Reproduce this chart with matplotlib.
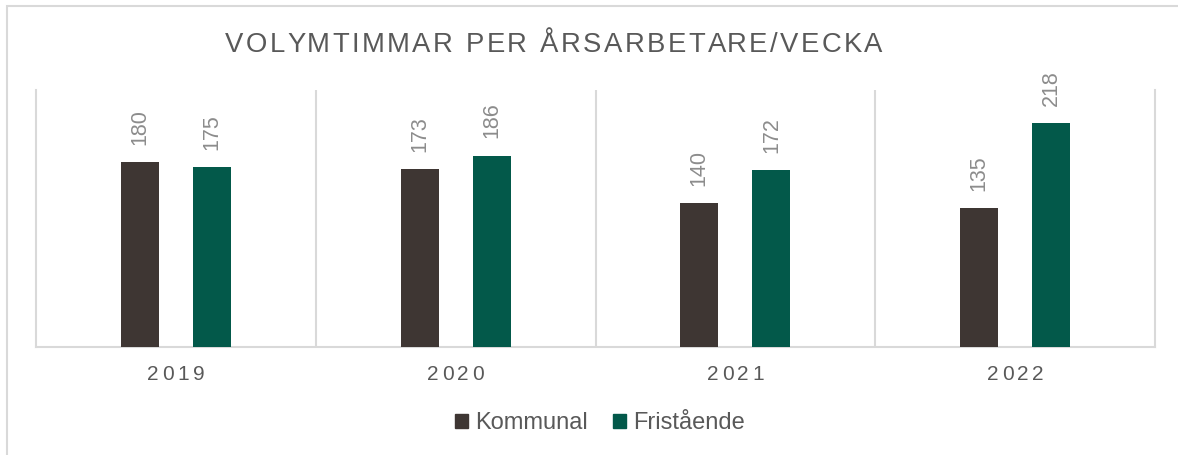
import matplotlib
matplotlib.use("Agg")
import matplotlib.pyplot as plt
import numpy as np
from matplotlib.patches import Patch, Rectangle
from matplotlib.font_manager import FontProperties

years = ["2019", "2020", "2021", "2022"]
series_names = ["Kommunal", "Fristående"]
kommunal = [180, 173, 140, 135]
fristaende = [175, 186, 172, 218]
title = "VOLYMTIMMAR PER ÅRSARBETARE/VECKA"

colors = ["#3E3633", "#03594A"]
W, H = 1178, 455
plt.rcParams['font.family'] = ['Liberation Sans', 'DejaVu Sans']

fig = plt.figure(figsize=(W / 100, H / 100), dpi=100)
fig.patch.set_facecolor("white")

ax = fig.add_axes([36 / W, 1 - 347 / H, (1155 - 36) / W, (347 - 90) / H])
x = np.arange(len(years))
bw = 0.136
off = 0.1287
for vals, sgn, c in [(kommunal, -1, colors[0]), (fristaende, 1, colors[1])]:
    bars = ax.bar(x + sgn * off, vals, width=bw, color=c, zorder=3)
    for b, v in zip(bars, vals):
        ax.annotate(str(v), (b.get_x() + b.get_width() / 2, v), xytext=(0, 12.5),
                    textcoords="offset points", rotation=90, ha="center", va="bottom",
                    fontsize=15.5, color="#8C8C8C")

ax.set_xlim(-0.5, len(years) - 0.5)
ax.set_ylim(0, 250)
ax.set_yticks([])
ax.set_xticks([])
ax.spines["top"].set_visible(False)
for sp in ["left", "right", "bottom"]:
    ax.spines[sp].set_color("#D9D9D9")
    ax.spines[sp].set_linewidth(1.5)
for b in np.arange(0.5, len(years) - 0.5, 1):
    ax.axvline(b, color="#D9D9D9", lw=1.5, zorder=1)
ax.set_facecolor("none")

renderer = fig.canvas.get_renderer()


def spaced_text(s, xc_px, y_px, size, spacing_px, color):
    prop = FontProperties(family=['Liberation Sans'], size=size)

    def w(t):
        if not t:
            return 0.0
        return renderer.get_text_width_height_descent(t, prop, ismath=False)[0]
    total = w(s) + (len(s) - 1) * spacing_px
    start = xc_px - total / 2
    for i, ch in enumerate(s):
        if ch == " ":
            continue
        px = start + w(s[:i]) + i * spacing_px
        fig.text(px / W, y_px / H, ch, fontproperties=prop, color=color,
                 ha="left", va="baseline")


# category labels
for i, yr in enumerate(years):
    xp = ax.transData.transform((i, 0))[0]
    spaced_text(yr, xp, H - 380.5, 15, 3.6, "#595959")

# title
spaced_text(title, 554, H - 52.5, 19.8, 2.5, "#595959")

handles = [Patch(facecolor=c, edgecolor=c) for c in colors]
fig.legend(handles, series_names, loc="center", bbox_to_anchor=(600 / W, 1 - 423 / H),
           ncol=2, frameon=False, fontsize=17, labelcolor="#595959",
           handlelength=0.55, handleheight=0.55, handletextpad=0.3, columnspacing=1.1)

fig.add_artist(Rectangle((7 / W, -0.1), 1.2, 1 - 6 / H + 0.1, transform=fig.transFigure,
                         fill=False, edgecolor="#D9D9D9", lw=1.5))

fig.savefig("out.png", dpi=100)
